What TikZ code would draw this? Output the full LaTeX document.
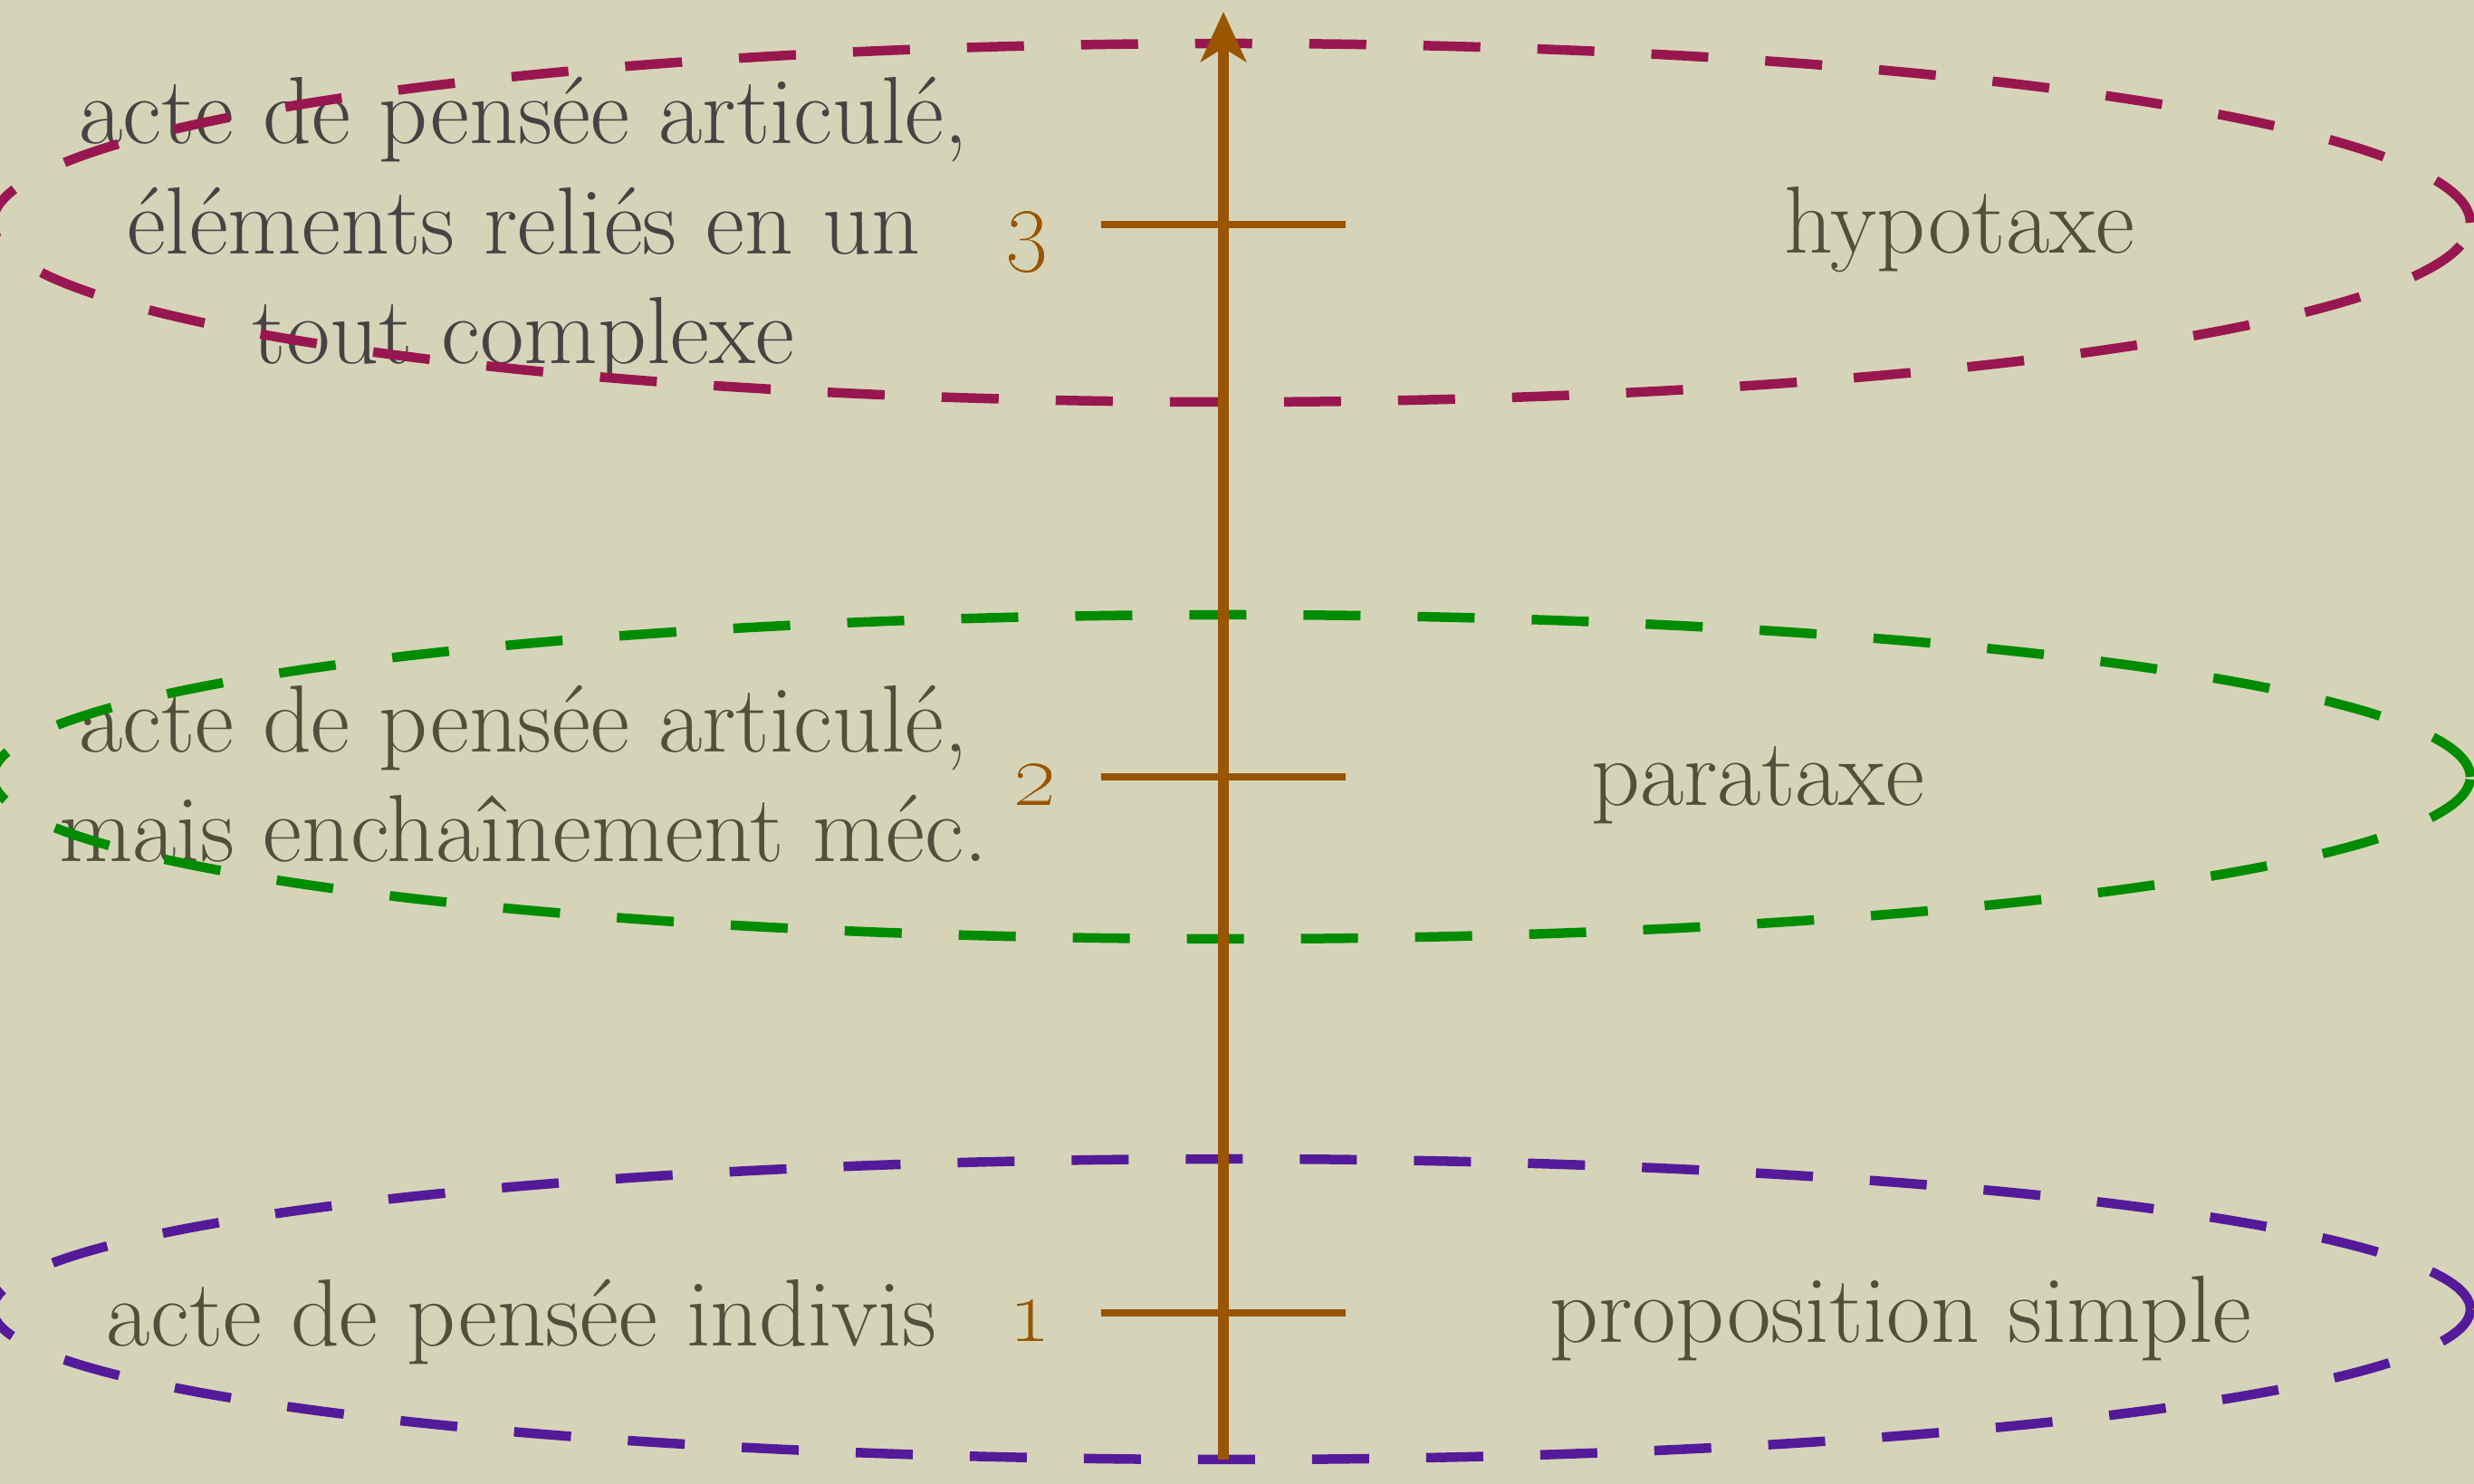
\documentclass[tikz,border=0pt]{standalone}
\usepackage{tikz}
\usetikzlibrary{arrows.meta, positioning, calc}
\definecolor{papier}{RGB}{214,212,184}
\definecolor{axebrun}{RGB}{153,85,0}
\definecolor{niveautrois}{RGB}{153,23,80}
\definecolor{niveaudeux}{RGB}{0,140,0}
\definecolor{niveauun}{RGB}{85,26,153}
\definecolor{encre}{RGB}{80,80,60}
\definecolor{encregrise}{RGB}{68,68,68}
\tikzset{
  texte/.style={font=\fontsize{30}{34.7}\selectfont, text=encre, align=center, anchor=base, inner sep=0pt},
  chiffre/.style={font=\fontsize{30}{34.7}\selectfont, text=axebrun, anchor=base, inner sep=0pt},
  nuage/.style={dash pattern=on 0.63cm off 0.63cm, line width=0.105cm},
  graduation/.style={axebrun, line width=0.08cm},
  axe/.style={axebrun, line width=0.12cm, -{Stealth[length=0.55cm, width=0.5cm, inset=0.15cm]}}
}

\begin{document}
\begin{tikzpicture}

    % Fond
    \useasboundingbox (0,0) rectangle (27.32,16.39);
    \fill[papier] (0,0) rectangle (27.32,16.39);
    \clip (0,0) rectangle (27.32,16.39);

    % ==========================================
    % 1. Textes (gauche et droite)
    % ==========================================
    \node[texte, text=encregrise] (pensee3) at (5.78, 12.37) {acte de pensée articulé,\\éléments reliés en un\\tout complexe};
    \node[texte] (pensee2) at (5.78, 6.87) {acte de pensée articulé,\\mais enchaînement méc.};
    \node[texte] (pensee1) at (5.76, 1.52) {acte de pensée indivis};

    \node[texte] (hypotaxe) at (21.64, 13.59) {hypotaxe};
    \node[texte] (parataxe) at (19.41, 7.49) {parataxe};
    \node[texte] (propsimple) at (20.99, 1.56) {proposition simple};

    % ==========================================
    % 2. Niveaux (ellipses en tirets)
    % ==========================================
    \draw[nuage, niveautrois] (13.6, 13.93) ellipse [x radius=13.68, y radius=1.98];
    \draw[nuage, niveaudeux] (13.6, 7.81) ellipse [x radius=13.68, y radius=1.79];
    \draw[nuage, niveauun] (13.6, 1.93) ellipse [x radius=13.68, y radius=1.66];

    % ==========================================
    % 3. Axe vertical et graduations
    % ==========================================
    \coordinate (bas) at (13.51, 0.27);
    \coordinate (haut) at (13.51, 16.26);
    \draw[axe] (bas) -- (haut);

    \foreach \y/\n/\xn in {13.91/3/11.34, 7.81/2/11.43, 1.89/1/11.37} {
        \coordinate (grad\n) at (13.51, \y);
        \draw[graduation] ($(grad\n)+(-1.35,0)$) -- ($(grad\n)+(1.35,0)$);
        \node[chiffre] (num\n) at (\xn, \y-0.32) {\oldstylenums{\n}};
    }

\end{tikzpicture}
\end{document}
